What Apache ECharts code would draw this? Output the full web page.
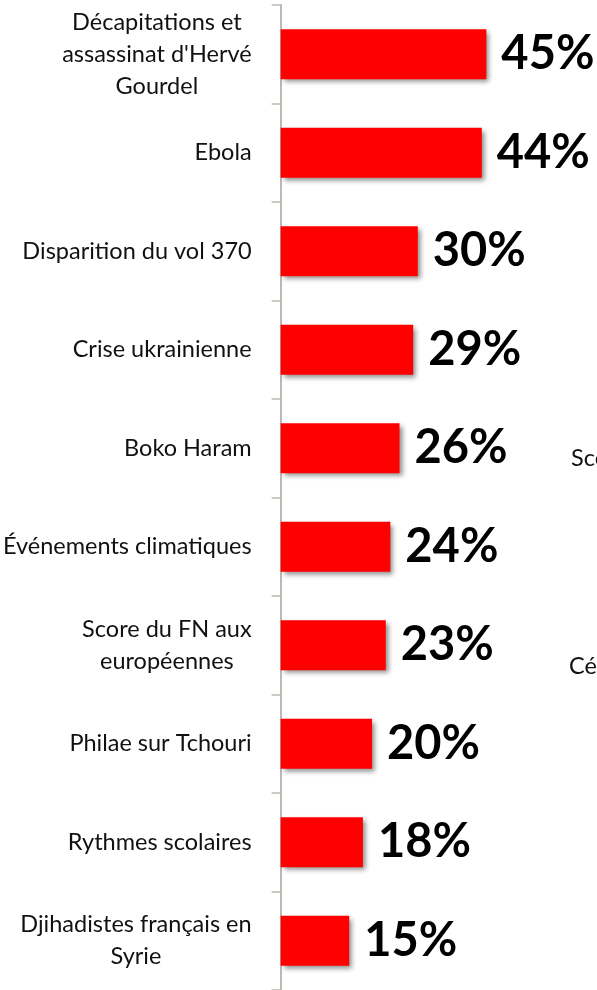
<!DOCTYPE html>
<html>
<head>
<meta charset="utf-8">
<script src="https://cdn.jsdelivr.net/npm/echarts@6/dist/echarts.min.js"></script>
<style>
html,body{margin:0;padding:0;background:#fff;}
#chart{width:597px;height:990px;}
</style>
</head>
<body>
<div id="chart"></div>
<script>
var categories = [
  "Décapitations et\nassassinat d'Hervé\nGourdel",
  "Ebola",
  "Disparition du vol 370",
  "Crise ukrainienne",
  "Boko Haram",
  "Événements climatiques",
  "Score du FN aux\neuropéennes",
  "Philae sur Tchouri",
  "Rythmes scolaires",
  "Djihadistes français en\nSyrie"
];
var values = [45, 44, 30, 29, 26, 24, 23, 20, 18, 15];
var cutTexts = ["Sco", "Cér"];

var chart = echarts.init(document.getElementById('chart'));
var FONT = 'Lato, "Open Sans", sans-serif';
chart.setOption({
  animation: false,
  backgroundColor: '#ffffff',
  grid: {left: 276, right: 0, top: 5, bottom: 0, containLabel: false},
  xAxis: {
    type: 'value', min: 0, max: 69.2, show: false
  },
  yAxis: {
    type: 'category', inverse: true, data: categories,
    axisLine: {show: true, lineStyle: {color: '#bdb8b0', width: 2}},
    axisTick: {show: true, length: 9, lineStyle: {color: '#bdb8b0', width: 1.5}},
    axisLabel: {
      margin: 29, align: 'right',
      formatter: function (v) {
        return v.split('\n').map(function (l) { return '{c|' + l + '}'; }).join('\n');
      },
      rich: {c: {align: 'center', fontFamily: FONT, fontSize: 23.5, color: '#111111', lineHeight: 32}}
    }
  },
  series: [{
    type: 'bar', data: values, barWidth: 50,
    itemStyle: {color: '#ff0000', shadowColor: 'rgba(0,0,0,0.45)', shadowBlur: 5, shadowOffsetX: 3, shadowOffsetY: 3},
    label: {
      show: true, position: 'right', distance: 15,
      formatter: '{c}%', fontFamily: FONT, fontWeight: 'bold', fontSize: 47, color: '#000000'
    }
  }],
  graphic: [
    {type: 'text', left: 571, top: 446, style: {text: cutTexts[0], fontFamily: FONT, fontSize: 23.5, fill: '#111111'}},
    {type: 'text', left: 569, top: 654, style: {text: cutTexts[1], fontFamily: FONT, fontSize: 23.5, fill: '#111111'}}
  ]
});
</script>
</body>
</html>
